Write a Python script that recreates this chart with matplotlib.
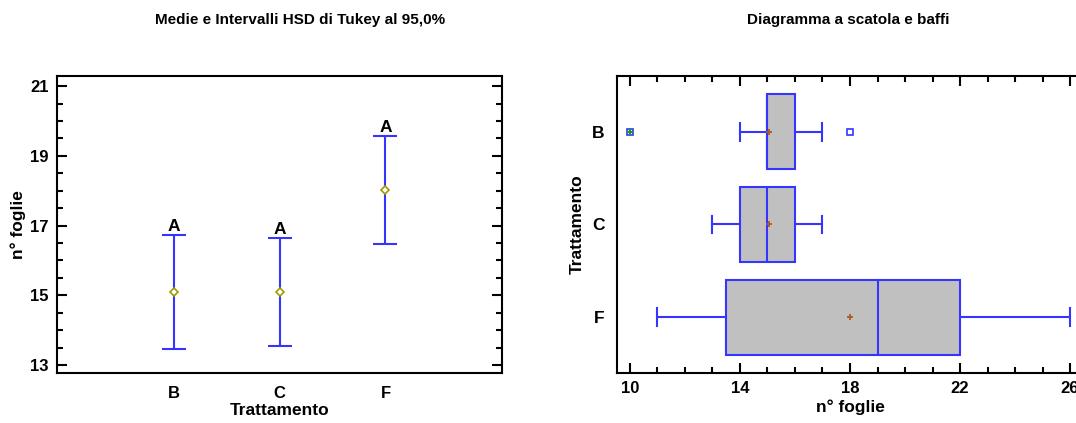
import numpy as np
import matplotlib.pyplot as plt
from matplotlib.ticker import MultipleLocator

plt.rcParams['font.family'] = ['Liberation Sans', 'DejaVu Sans']
plt.rcParams['font.weight'] = 'bold'

## DATA
groups = ['B', 'C', 'F']
tukey_mean = [15.10, 15.10, 18.02]
tukey_low = [13.47, 13.55, 16.47]
tukey_high = [16.72, 16.65, 19.57]
tukey_letters = ['A', 'A', 'A']

box_q1 = [15.0, 14.0, 13.5]
box_med = [15.0, 15.0, 19.0]
box_q3 = [16.0, 16.0, 22.0]
box_lo = [14.0, 13.0, 11.0]
box_hi = [17.0, 17.0, 26.0]
box_mean = [15.07, 15.07, 18.0]
box_out = [[10.0, 18.0], [], []]
box_far = [[10.0], [], []]

blue = '#3535ff'

fig = plt.figure(figsize=(10.76, 4.23), dpi=100)

## LEFT: TUKEY HSD INTERVALS
ax1 = fig.add_axes([57 / 1076, 50 / 423, 445 / 1076, 297 / 423])
x = np.arange(1, len(groups) + 1)
mean = np.array(tukey_mean)
err = [mean - np.array(tukey_low), np.array(tukey_high) - mean]
ax1.errorbar(x, mean, yerr=err, fmt='none', ecolor=blue, elinewidth=1.5,
             capsize=8.3, capthick=1.5)
ax1.plot(x, mean, 'D', ms=4.5, mfc='white', mec='#a09a00', mew=1.2, ls='none')
for xi, hi, lab in zip(x, tukey_high, tukey_letters):
    ax1.text(xi, hi + 0.03, lab, ha='center', va='bottom', fontsize=12.5, fontweight='bold')
ax1.set_xlim(-0.1, 4.1)
ax1.set_ylim(12.77, 21.29)
ax1.set_xticks(x)
ax1.set_xticklabels(groups)
ax1.yaxis.set_minor_locator(MultipleLocator(0.5))
ax1.set_yticks([13, 15, 17, 19, 21])
ax1.tick_params(axis='y', which='both', direction='in', left=True, right=True,
                labelsize=12, width=1.5)
ax1.tick_params(axis='y', which='major', length=7, pad=6)
ax1.tick_params(axis='y', which='minor', length=4)
ax1.tick_params(axis='x', length=0, labelsize=12, pad=9)
ax1.set_xlabel('Trattamento', fontsize=12.5, fontweight='bold', labelpad=2)
ax1.set_ylabel('n° foglie', fontsize=12.5, fontweight='bold', labelpad=3)
for s in ax1.spines.values():
    s.set_linewidth(1.5)

## RIGHT: BOX PLOT
ax2 = fig.add_axes([617 / 1076, 50 / 423, 466 / 1076, 297 / 423])
stats = []
for i, g in enumerate(groups):
    stats.append(dict(label=g, q1=box_q1[i], med=box_med[i], q3=box_q3[i],
                      whislo=box_lo[i], whishi=box_hi[i], mean=box_mean[i],
                      fliers=box_out[i]))
pos = np.arange(len(groups))
ax2.bxp(stats, positions=pos, widths=0.81, capwidths=0.19, orientation='horizontal',
        patch_artist=True, showmeans=True,
        boxprops=dict(facecolor='#c0c0c0', edgecolor=blue, linewidth=1.5),
        medianprops=dict(color=blue, linewidth=1.5),
        whiskerprops=dict(color=blue, linewidth=1.5),
        capprops=dict(color=blue, linewidth=1.5),
        meanprops=dict(marker='+', markeredgecolor='#b05a20', markersize=5, mew=1.3),
        flierprops=dict(marker='s', mfc='white', mec=blue, markersize=5, mew=1.2))
for i, far in enumerate(box_far):
    if far:
        ax2.plot(far, [pos[i]] * len(far), '+', color='#10a010', ms=4, mew=1.5)
ax2.set_ylim(2.6, -0.6)
ax2.set_xlim(9.53, 26.47)
ax2.set_yticks(pos)
ax2.set_yticklabels(groups)
ax2.xaxis.set_minor_locator(MultipleLocator(1))
ax2.set_xticks([10, 14, 18, 22, 26])
ax2.tick_params(axis='x', which='both', direction='in', bottom=True, top=True,
                labelsize=12, width=1.5)
ax2.tick_params(axis='x', which='major', length=7, pad=6)
ax2.tick_params(axis='x', which='minor', length=4)
ax2.tick_params(axis='y', length=0, labelsize=12.5, pad=9)
ax2.set_xlabel('n° foglie', fontsize=12.5, fontweight='bold', labelpad=2)
ax2.set_ylabel('Trattamento', fontsize=12.5, fontweight='bold', labelpad=5)
for s in ax2.spines.values():
    s.set_linewidth(1.5)

## TITLES
fig.text(300 / 1076, 1 - 20 / 423, 'Medie e Intervalli HSD di Tukey al 95,0%',
         ha='center', va='center', fontsize=11, fontweight='bold')
fig.text(848 / 1076, 1 - 20 / 423, 'Diagramma a scatola e baffi',
         ha='center', va='center', fontsize=11, fontweight='bold')

fig.savefig('out.png', dpi=100)
